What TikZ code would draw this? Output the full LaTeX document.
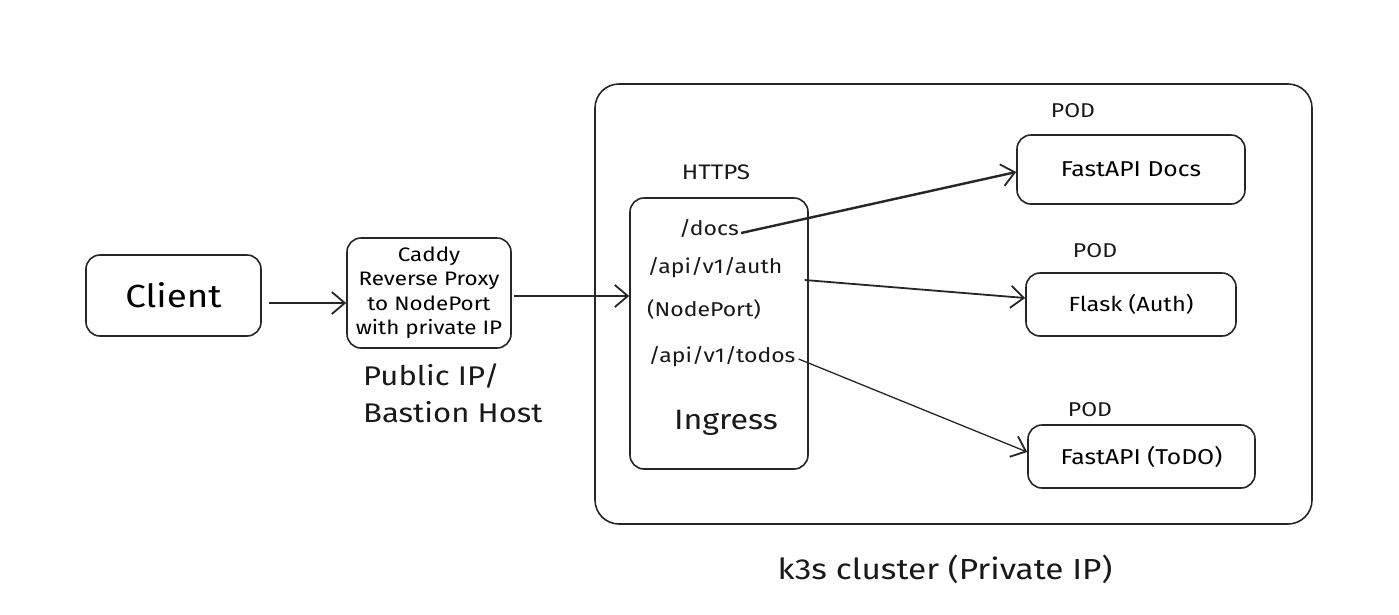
\documentclass[tikz,border=0pt]{standalone}
\usepackage{fontspec}
\setmainfont{Fira Sans}[FakeStretch=1.15]
\usetikzlibrary{arrows.meta}
\begin{document}
\begin{tikzpicture}[x=1pt,y=-1pt,
  box/.style={draw=black!85,line width=1.6pt,rounded corners=14pt},
  lbl/.style={inner sep=0pt,text=black!90},
  conn/.style={draw=black!85,line width=2pt,-{Straight Barb[length=13pt,width=22pt,line width=1.8pt]}},
]
\useasboundingbox[fill=white] (0,0) rectangle (1399,614);
% cluster
\draw[box,rounded corners=24pt] (595,84) rectangle (1312,524);
\node[lbl,font=\fontsize{29}{34}\selectfont] (k3s) at (945,569) {k3s cluster (Private IP)};
% client
\node[box,minimum width=175pt,minimum height=81pt,font=\fontsize{32}{36}\selectfont] (client) at (173.5,295.5) {Client};
% caddy
\node[box,minimum width=164pt,minimum height=110pt,align=center,inner sep=2pt,font=\fontsize{19.5}{24.5}\selectfont] (caddy) at (429,293) {Caddy\\Reverse Proxy\\to NodePort\\with private IP};
\node[lbl,align=left,anchor=north west,font=\fontsize{27}{37}\selectfont] (bastion) at (363,364) {Public IP/\\Bastion Host};
% ingress
\node[box,minimum width=178pt,minimum height=271pt] (ingress) at (719,333.5) {};
\node[lbl,font=\fontsize{21}{24}\selectfont] (https) at (716,172) {HTTPS};
\node[lbl,font=\fontsize{20}{22}\selectfont] (docs) at (709,228) {/docs};
\node[lbl,font=\fontsize{20}{22}\selectfont] (auth) at (715,268) {/api/v1/auth};
\node[lbl,font=\fontsize{20}{22}\selectfont] (np) at (704,309) {(NodePort)};
\node[lbl,font=\fontsize{20}{22}\selectfont] (todos) at (722,357) {/api/v1/todos};
\node[lbl,font=\fontsize{28}{30}\selectfont] (ingtxt) at (726,423) {Ingress};
% pods
\node[box,minimum width=228pt,minimum height=69pt,font=\fontsize{21.5}{24}\selectfont] (docsp) at (1131,169.5) {FastAPI Docs};
\node[lbl,font=\fontsize{20}{22}\selectfont] (pod1) at (1073,111) {POD};
\node[box,minimum width=210pt,minimum height=63pt,font=\fontsize{20.5}{24}\selectfont] (flask) at (1131,304.5) {Flask (Auth)};
\node[lbl,font=\fontsize{20}{22}\selectfont] (pod2) at (1095,251) {POD};
\node[box,minimum width=227pt,minimum height=63pt,font=\fontsize{21.5}{24}\selectfont] (todop) at (1141.5,456.5) {FastAPI (ToDO)};
\node[lbl,font=\fontsize{20}{22}\selectfont] (pod3) at (1090,410) {POD};
% connectors
\draw[conn] (client.east |- 0,303) ++(7,0) -- (caddy.west |- 0,303);
\draw[conn] (caddy.east |- 0,296) ++(2,0) -- (ingress.west |- 0,296);
\draw[conn,line width=2.4pt] (docs.east) ++(2,5) -- (docsp.west |- 0,172);
\draw[conn,line width=1.8pt] (auth.east) ++(22,12) -- (flask.west |- 0,298);
\draw[conn,line width=1.3pt] (todos.east) ++(3,2) -- (todop.west |- 0,452);
\end{tikzpicture}
\end{document}
